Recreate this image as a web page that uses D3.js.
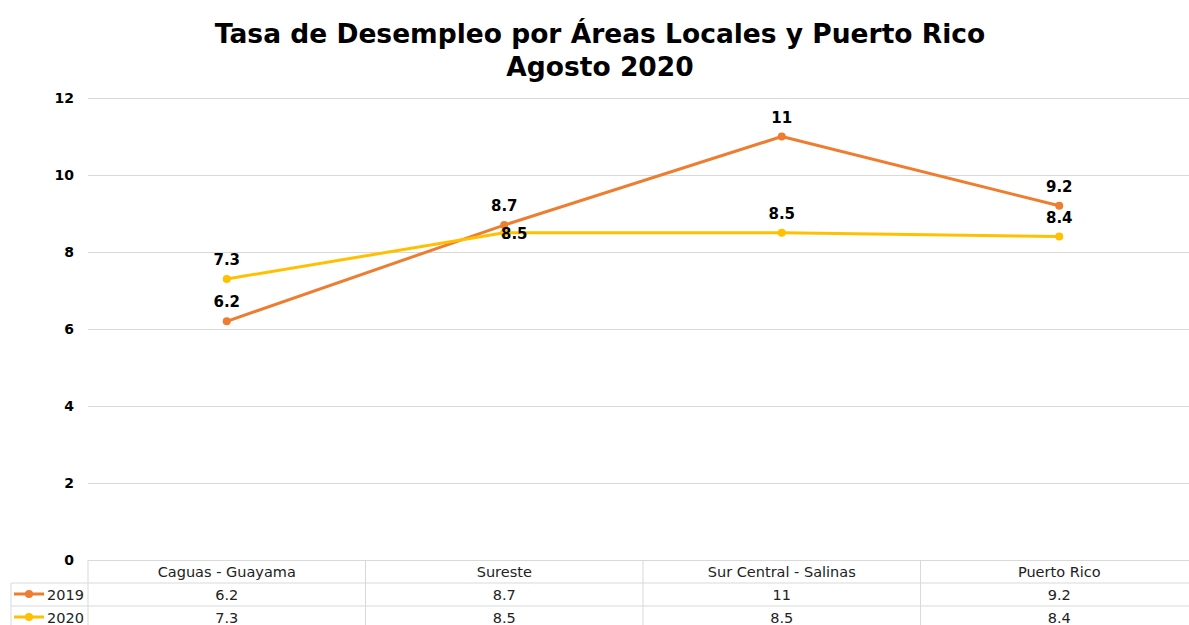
<!DOCTYPE html>
<html>
<head>
<meta charset="utf-8">
<script src="https://cdn.jsdelivr.net/npm/d3@7"></script>
<style>
  body { margin: 0; background: #fff; }
  svg { font-family: "DejaVu Sans", Verdana, sans-serif; }
  .grid line { stroke: #d9d9d9; stroke-width: 1; }
  .grid path { display: none; }
</style>
</head>
<body>
<svg width="1189" height="625"></svg>
<script>
var categories = ['Caguas - Guayama', 'Sureste', 'Sur Central - Salinas', 'Puerto Rico'];
var seriesNames = ['2019', '2020'];
var values2019 = [6.2, 8.7, 11, 9.2];
var values2020 = [7.3, 8.5, 8.5, 8.4];
var yTicks = [0, 2, 4, 6, 8, 10, 12];
var colors = ['#ED7D31', '#FFC000'];

var svg = d3.select('svg');
var plotLeft = 88, plotRight = 1198, plotTop = 98, plotBottom = 560;
var rowH = 23;

var x = d3.scaleBand().domain(categories).range([plotLeft, plotRight]);
var y = d3.scaleLinear().domain([0, 12]).range([plotBottom, plotTop]);

// titulo
svg.append('text').attr('x', 600).attr('y', 43).attr('text-anchor', 'middle')
   .attr('font-size', 26.5).attr('font-weight', 'bold')
   .text('Tasa de Desempleo por Áreas Locales y Puerto Rico');
svg.append('text').attr('x', 600).attr('y', 76).attr('text-anchor', 'middle')
   .attr('font-size', 26.5).attr('font-weight', 'bold')
   .text('Agosto 2020');

// grid
svg.append('g').classed('grid', true)
   .attr('transform', 'translate(' + plotLeft + ',0)')
   .call(d3.axisLeft(y).tickValues(yTicks).tickSize(-(plotRight - plotLeft)).tickFormat(''));

svg.append('g').selectAll('text').data(yTicks).enter().append('text')
   .attr('x', 74).attr('y', function(d) { return y(d) + 5; })
   .attr('text-anchor', 'end').attr('font-size', 14).attr('font-weight', 'bold')
   .text(function(d) { return d; });

// tabla de datos
var table = svg.append('g').attr('stroke', '#d9d9d9').attr('fill', 'none');
x.domain().forEach(function(c) {
  table.append('line').attr('x1', x(c)).attr('x2', x(c)).attr('y1', plotBottom).attr('y2', plotBottom + rowH * 3);
});
table.append('line').attr('x1', plotRight).attr('x2', plotRight).attr('y1', plotBottom).attr('y2', plotBottom + rowH * 3);
table.append('line').attr('x1', 11).attr('x2', 11).attr('y1', plotBottom + rowH).attr('y2', plotBottom + rowH * 3);
for (var r = 1; r <= 3; r++) {
  table.append('line').attr('x1', 11).attr('x2', plotRight)
     .attr('y1', plotBottom + rowH * r).attr('y2', plotBottom + rowH * r);
}

svg.append('g').selectAll('text').data(categories).enter().append('text')
   .attr('x', function(d) { return x(d) + x.bandwidth() / 2; })
   .attr('y', plotBottom + 17).attr('text-anchor', 'middle').attr('font-size', 14.5).attr('fill', '#222')
   .text(function(d) { return d; });

var series = [values2019, values2020];
series.forEach(function(vals, i) {
  var rowY = plotBottom + rowH * (i + 1);
  var g = svg.append('g');
  g.append('line').attr('x1', 14).attr('x2', 44).attr('y1', rowY + 11).attr('y2', rowY + 11)
   .attr('stroke', colors[i]).attr('stroke-width', 3);
  g.append('circle').attr('cx', 29).attr('cy', rowY + 11).attr('r', 4).attr('fill', colors[i]);
  g.append('text').attr('x', 47).attr('y', rowY + 17).attr('font-size', 14.5).attr('fill', '#222')
   .text(seriesNames[i]);
  g.selectAll('text.v').data(vals).enter().append('text').classed('v', true)
   .attr('x', function(d, k) { return x(categories[k]) + x.bandwidth() / 2; })
   .attr('y', rowY + 17).attr('text-anchor', 'middle').attr('font-size', 14.5).attr('fill', '#222')
   .text(function(d) { return d; });
});

// lineas
var line = d3.line()
  .x(function(d, k) { return x(categories[k]) + x.bandwidth() / 2; })
  .y(function(d) { return y(d); });

series.forEach(function(vals, i) {
  var g = svg.append('g');
  g.append('path').datum(vals).attr('d', line).attr('fill', 'none')
   .attr('stroke', colors[i]).attr('stroke-width', 3).attr('stroke-linejoin', 'round');
  g.selectAll('circle').data(vals).enter().append('circle')
   .attr('cx', function(d, k) { return x(categories[k]) + x.bandwidth() / 2; })
   .attr('cy', function(d) { return y(d); })
   .attr('r', 4).attr('fill', colors[i]);
});

// etiquetas de datos
series.forEach(function(vals, i) {
  svg.append('g').selectAll('text').data(vals).enter().append('text')
   .attr('x', function(d, k) {
     var cx = x(categories[k]) + x.bandwidth() / 2;
     return (i === 1 && k === 1) ? cx + 10 : cx;
   })
   .attr('y', function(d, k) {
     return (i === 1 && k === 1) ? y(d) + 6 : y(d) - 14;
   })
   .attr('text-anchor', 'middle').attr('font-size', 15).attr('font-weight', 'bold')
   .text(function(d) { return d; });
});
</script>
</body>
</html>
